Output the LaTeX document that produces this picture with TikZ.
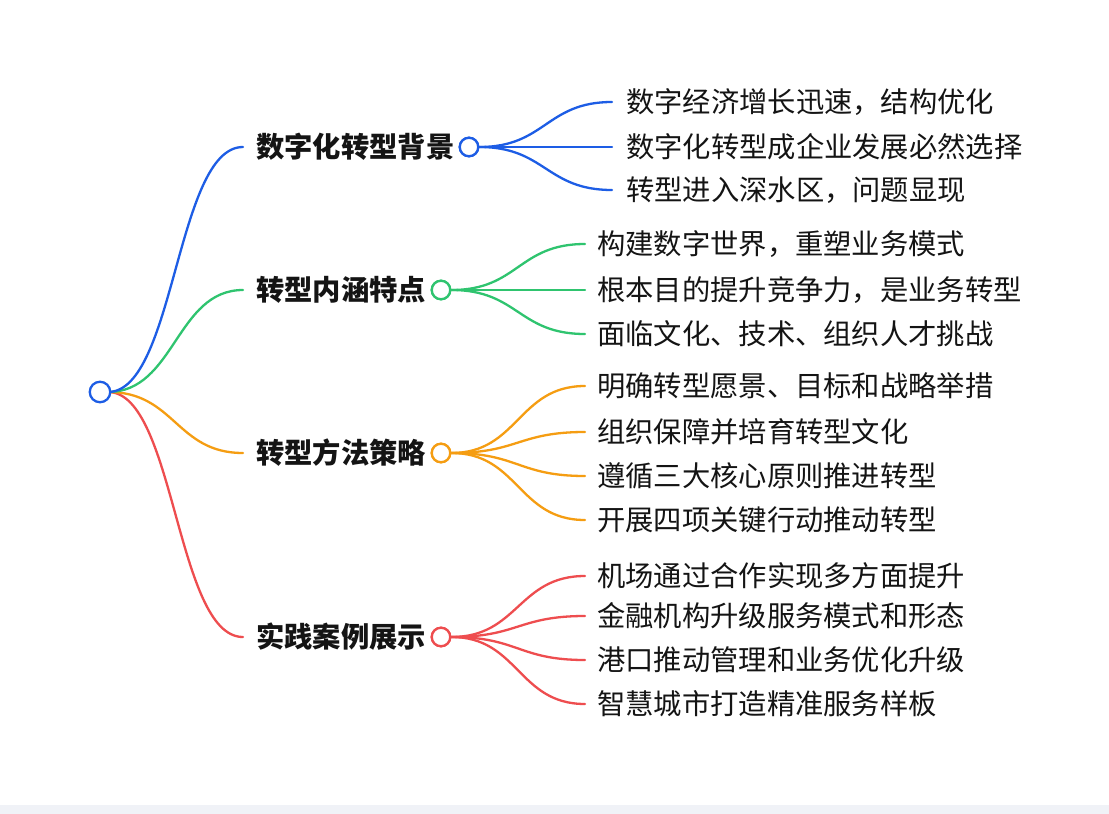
\documentclass[tikz,border=0pt]{standalone}
\usepackage{fontspec}
\newfontfamily\cjk{Noto Sans CJK SC}
\definecolor{cblue}{HTML}{1D5DE5}
\definecolor{cgreen}{HTML}{2FC46F}
\definecolor{corange}{HTML}{F59D12}
\definecolor{cred}{HTML}{EE4D4F}
\definecolor{band}{HTML}{F0F2F7}
\definecolor{ink}{HTML}{141414}
\tikzset{
  dot/.style={circle, minimum size=18.5pt, inner sep=0pt, line width=2.3pt, fill=white},
  rootdot/.style={circle, minimum size=20.5pt, inner sep=0pt, line width=2.3pt, fill=white},
  edge/.style={line width=2.3pt, line cap=round},
  maintext/.style={anchor=west, inner sep=0pt, text=ink, font=\cjk\bfseries\fontsize{28.3}{31}\selectfont},
  leaftext/.style={anchor=west, inner sep=0pt, text=ink, font=\cjk\fontsize{28.3}{31}\selectfont},
}
\begin{document}
\begin{tikzpicture}[x=1pt,y=-1pt]
\fill[white] (0,0) rectangle (1109,814);
\fill[band] (0,805) rectangle (1109,814);
\useasboundingbox (0,0) rectangle (1109,814);

% main branch end points
\coordinate (m1) at (243,147);
\coordinate (m2) at (243,290);
\coordinate (m3) at (243,453);
\coordinate (m4) at (243,637);

% main texts and dots
\node[maintext] (t1) at (256,147) {数字化转型背景};
\node[maintext] (t2) at (256,290) {转型内涵特点};
\node[maintext] (t3) at (256,453) {转型方法策略};
\node[maintext] (t4) at (256,637) {实践案例展示};
\node[dot, draw=cblue] (d1) at (469,147) {};
\node[dot, draw=cgreen] (d2) at (441,290) {};
\node[dot, draw=corange] (d3) at (441,453) {};
\node[dot, draw=cred] (d4) at (441,637) {};

% leaf end points
\coordinate (a1) at (612,102);
\coordinate (a2) at (612,147);
\coordinate (a3) at (612,190);
\coordinate (b1) at (585,244);
\coordinate (b2) at (585,290);
\coordinate (b3) at (585,334);
\coordinate (c1) at (585,386);
\coordinate (c2) at (585,432);
\coordinate (c3) at (585,476);
\coordinate (c4) at (585,520);
\coordinate (e1) at (585,576);
\coordinate (e2) at (585,616);
\coordinate (e3) at (585,660);
\coordinate (e4) at (585,704);

% leaf texts
\node[leaftext] (la1) at (626,102) {数字经济增长迅速，结构优化};
\node[leaftext] (la2) at (626,147) {数字化转型成企业发展必然选择};
\node[leaftext] (la3) at (626,190) {转型进入深水区，问题显现};
\node[leaftext] (lb1) at (597,244) {构建数字世界，重塑业务模式};
\node[leaftext] (lb2) at (597,290) {根本目的提升竞争力，是业务转型};
\node[leaftext] (lb3) at (597,334) {面临文化、技术、组织人才挑战};
\node[leaftext] (lc1) at (597,386) {明确转型愿景、目标和战略举措};
\node[leaftext] (lc2) at (597,432) {组织保障并培育转型文化};
\node[leaftext] (lc3) at (597,476) {遵循三大核心原则推进转型};
\node[leaftext] (lc4) at (597,520) {开展四项关键行动推动转型};
\node[leaftext] (le1) at (597,576) {机场通过合作实现多方面提升};
\node[leaftext] (le2) at (597,616) {金融机构升级服务模式和形态};
\node[leaftext] (le3) at (597,660) {港口推动管理和业务优化升级};
\node[leaftext] (le4) at (597,704) {智慧城市打造精准服务样板};

% root edges
\coordinate (r) at (108,392);
\draw[edge, cred] (r) .. controls +(67,0) and +(-67,0) .. (m4);
\draw[edge, corange] (r) .. controls +(67,0) and +(-67,0) .. (m3);
\draw[edge, cgreen] (r) .. controls +(67,0) and +(-67,0) .. (m2);
\draw[edge, cblue] (r) .. controls +(67,0) and +(-67,0) .. (m1);
\node[rootdot, draw=cblue] (root) at (100,392) {};

% leaf edges
\foreach \t in {a1,a2,a3}
  \draw[edge, cblue] (d1.east) .. controls +(66,0) and +(-66,0) .. (\t);
\foreach \t in {b1,b2,b3}
  \draw[edge, cgreen] (d2.east) .. controls +(67,0) and +(-67,0) .. (\t);
\foreach \t in {c1,c2,c3,c4}
  \draw[edge, corange] (d3.east) .. controls +(67,0) and +(-67,0) .. (\t);
\foreach \t in {e1,e2,e3,e4}
  \draw[edge, cred] (d4.east) .. controls +(67,0) and +(-67,0) .. (\t);
\node[dot, draw=cblue] at (d1) {};
\node[dot, draw=cgreen] at (d2) {};
\node[dot, draw=corange] at (d3) {};
\node[dot, draw=cred] at (d4) {};
\end{tikzpicture}
\end{document}
